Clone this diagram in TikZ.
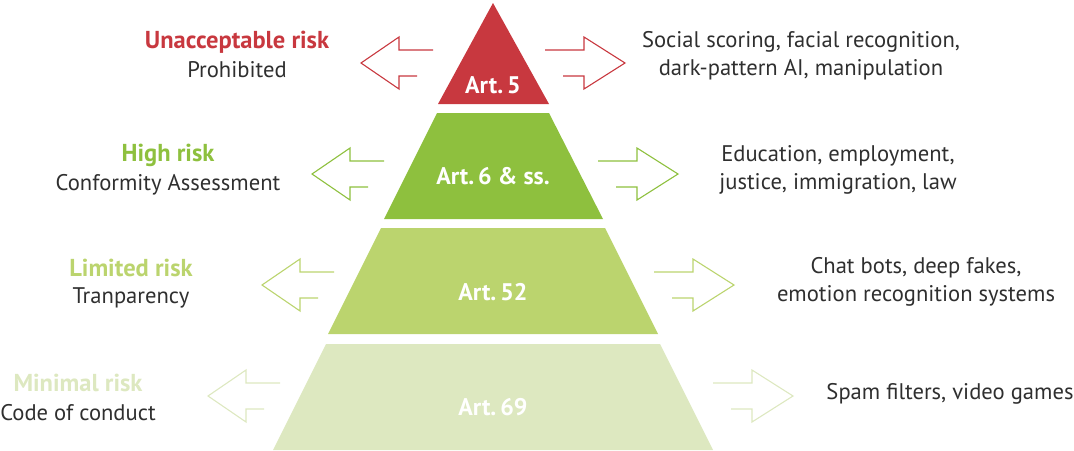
\documentclass[tikz,border=0pt]{standalone}
\usepackage{fontspec}
\setmainfont{PT Sans}
\usetikzlibrary{positioning}

\definecolor{RiskRed}{HTML}{C8383F}
\definecolor{RiskGreen}{HTML}{8EC03E}
\definecolor{RiskLime}{HTML}{BBD46E}
\definecolor{RiskPale}{HTML}{DDE8C0}
\definecolor{InkGray}{HTML}{2F2F2F}

\tikzset{
  artlabel/.style={text=white, font=\fontsize{24}{24}\selectfont\bfseries, inner sep=0pt},
  levelname/.style={font=\fontsize{24.5}{24}\selectfont\bfseries, inner sep=0pt},
  levelnote/.style={text=InkGray, font=\fontsize{22.6}{28}\selectfont, align=center, inner sep=0pt},
  openarrow/.style={line width=1.1pt, line join=miter},
}

\begin{document}
\begin{tikzpicture}[x=1pt, y=-1pt]
  \useasboundingbox (0,0) rectangle (1074,450);

  % pyramid tiers, top to bottom
  \fill[RiskRed]   (493,3)   -- (549,104) -- (438,104) -- cycle;
  \fill[RiskGreen] (437,113) -- (549,113) -- (603,219) -- (384,219) -- cycle;
  \fill[RiskLime]  (381,228) -- (605,228) -- (658,334) -- (328,334) -- cycle;
  \fill[RiskPale]  (326,344) -- (660,344) -- (713,450) -- (273,450) -- cycle;

  \node[artlabel] (art5)  at (493,85)  {Art.\,5};
  \node[artlabel] (art6)  at (493,176) {Art.\,6 \& ss.};
  \node[artlabel] (art52) at (493,292) {Art.\,52};
  \node[artlabel] (art69) at (493,407) {Art.\,69};

  % open arrows on both sides of each tier
  \foreach \col/\y/\lt/\rt in {RiskRed/63/361/625, RiskGreen/174/312/678, RiskLime/285/262/734, RiskPale/396/208/793} {
    \draw[openarrow, \col] (\lt+72,\y-13) -- (\lt+38,\y-13) -- (\lt+38,\y-26) -- (\lt,\y)
      -- (\lt+38,\y+26) -- (\lt+38,\y+13) -- (\lt+56,\y+13);
    \draw[openarrow, \col] (\rt-80,\y-13) -- (\rt-41,\y-13) -- (\rt-41,\y-26) -- (\rt,\y)
      -- (\rt-41,\y+26) -- (\rt-41,\y+13) -- (\rt-62,\y+13);
  }

  % risk levels
  \node[levelname, text=RiskRed]   (unacc)   at (237,42)  {Unacceptable risk};
  \node[levelnote]                 (prohib)  at (237,70)  {Prohibited};
  \node[levelname, text=RiskGreen] (high)    at (168,155) {High risk};
  \node[levelnote]                 (conform) at (168,185) {Conformity Assessment};
  \node[levelname, text=RiskLime]  (limited) at (131,268) {Limited risk};
  \node[levelnote]                 (transp)  at (131,298) {Tranparency};
  \node[levelname, text=RiskPale]  (minimal) at (78,383)  {Minimal risk};
  \node[levelnote]                 (conduct) at (78,413)  {Code of conduct};

  % examples
  \node[levelnote] (exunacc)   at (801,56)  {Social scoring, facial recognition,\\dark-pattern AI, manipulation};
  \node[levelnote] (exhigh)    at (838,170) {Education, employment,\\justice, immigration, law};
  \node[levelnote] (exlimited) at (916,282) {Chat bots, deep fakes,\\emotion recognition systems};
  \node[levelnote] (exminimal) at (950,394) {Spam filters, video games};
\end{tikzpicture}
\end{document}
